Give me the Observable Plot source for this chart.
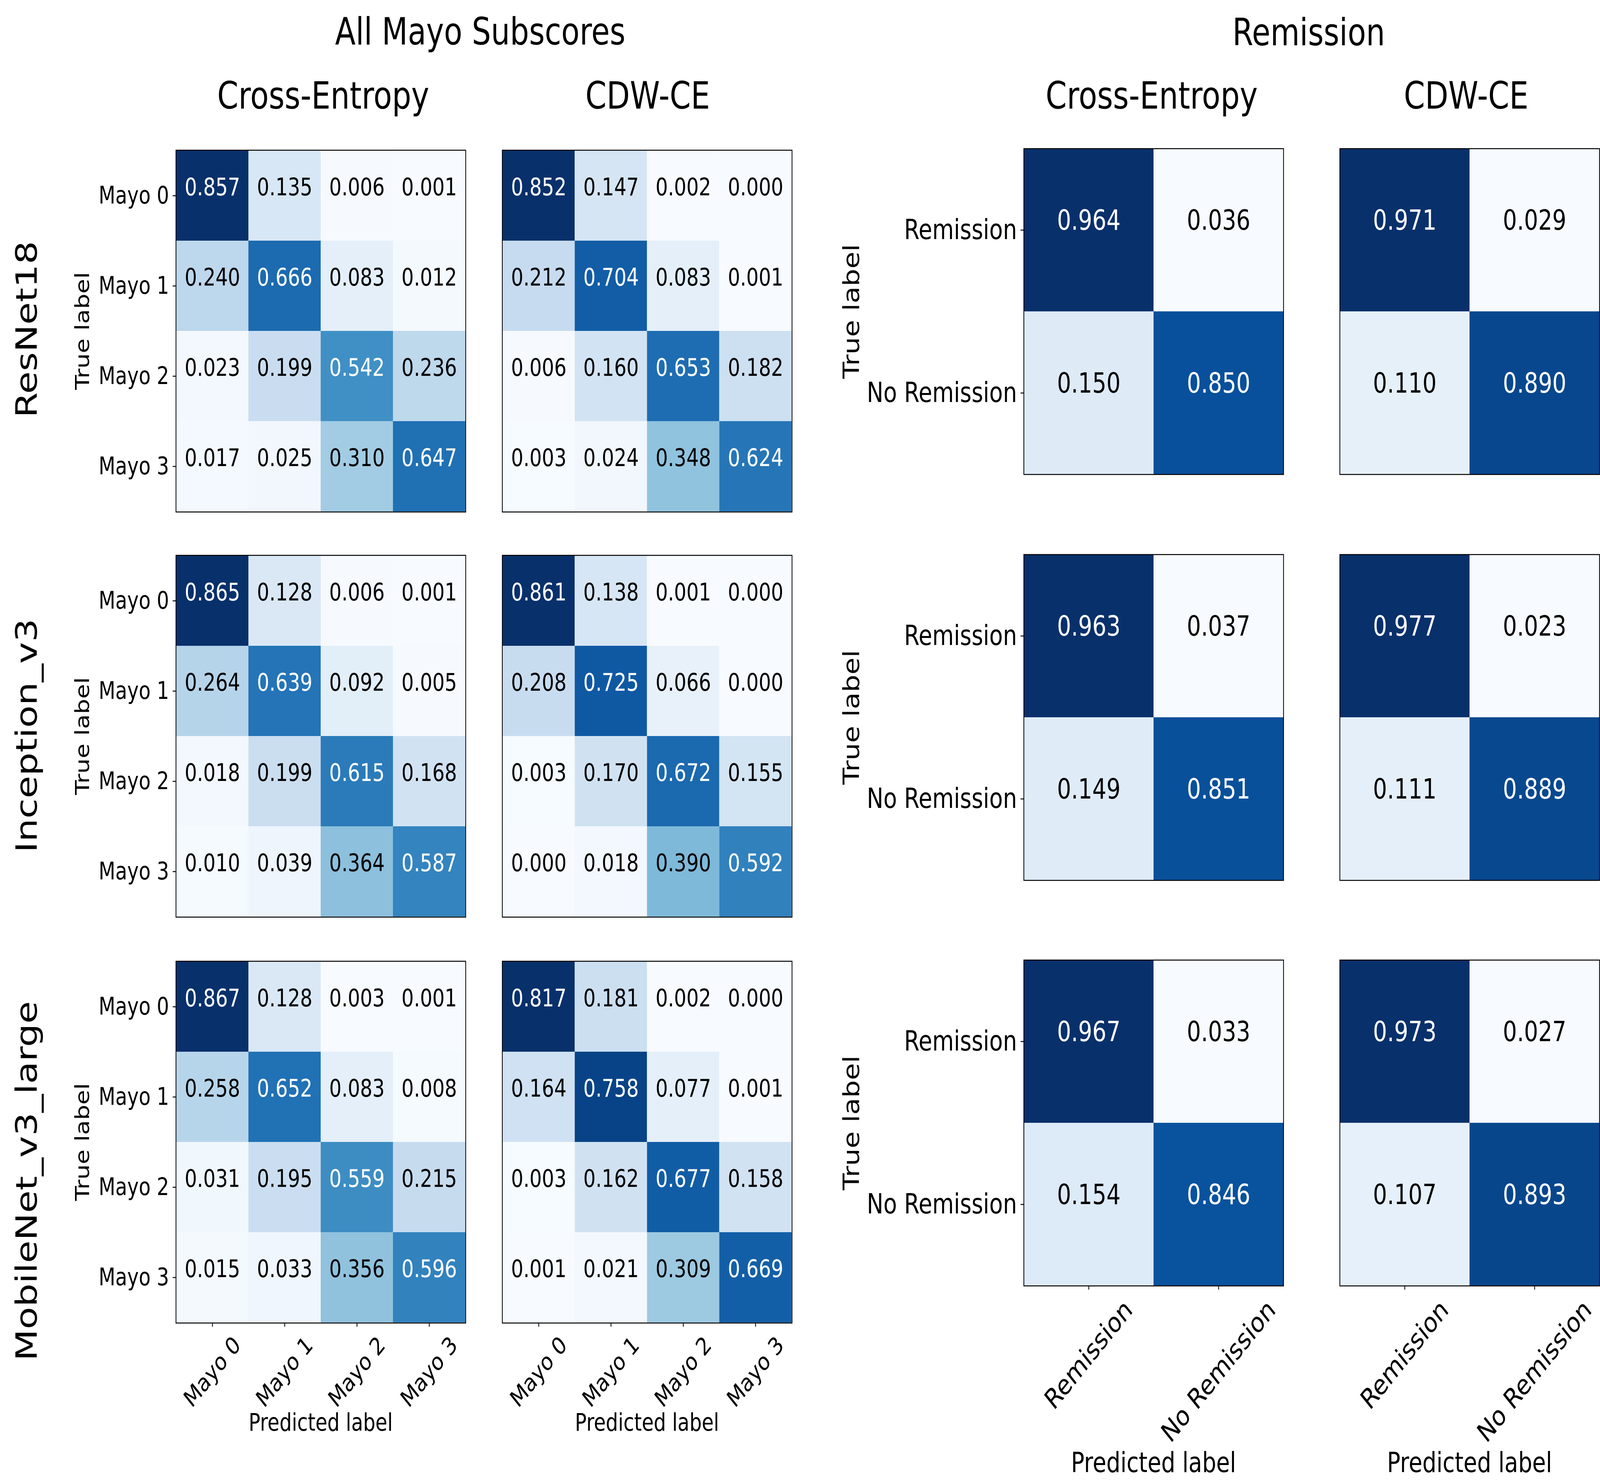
<!DOCTYPE html>
<html><head><meta charset="utf-8">
<script src="https://cdn.jsdelivr.net/npm/d3@7"></script>
<script src="https://cdn.jsdelivr.net/npm/@observablehq/plot@0.6"></script>
<style>
html,body{margin:0;padding:0;background:#fff;overflow:hidden;}
#wrap{position:relative;overflow:hidden;background:#fff;}
#root{position:absolute;left:0;top:0;width:5114px;height:3796px;background:#fff;font-family:"DejaVu Sans";overflow:hidden;transform-origin:0 0;}
.lbl{position:absolute;white-space:nowrap;line-height:1;color:#000;font-family:"DejaVu Sans";}
.pnl{position:absolute;}
</style></head><body><div id="wrap"><div id="root"></div></div>
<script>
// ---------------- data ----------------
const groupTitles = ["All Mayo Subscores", "Remission"];
const lossNames = ["Cross-Entropy", "CDW-CE"];
const modelNames = ["ResNet18", "Inception_v3", "MobileNet_v3_large"];
const mayoClasses = ["Mayo 0", "Mayo 1", "Mayo 2", "Mayo 3"];
const remissionClasses = ["Remission", "No Remission"];
const trueLabelText = "True label";
const predLabelText = "Predicted label";

const mayoResNet18CE  = [[0.857,0.135,0.006,0.001],[0.240,0.666,0.083,0.012],[0.023,0.199,0.542,0.236],[0.017,0.025,0.310,0.647]];
const mayoResNet18CDW = [[0.852,0.147,0.002,0.000],[0.212,0.704,0.083,0.001],[0.006,0.160,0.653,0.182],[0.003,0.024,0.348,0.624]];
const mayoInceptionCE  = [[0.865,0.128,0.006,0.001],[0.264,0.639,0.092,0.005],[0.018,0.199,0.615,0.168],[0.010,0.039,0.364,0.587]];
const mayoInceptionCDW = [[0.861,0.138,0.001,0.000],[0.208,0.725,0.066,0.000],[0.003,0.170,0.672,0.155],[0.000,0.018,0.390,0.592]];
const mayoMobileNetCE  = [[0.867,0.128,0.003,0.001],[0.258,0.652,0.083,0.008],[0.031,0.195,0.559,0.215],[0.015,0.033,0.356,0.596]];
const mayoMobileNetCDW = [[0.817,0.181,0.002,0.000],[0.164,0.758,0.077,0.001],[0.003,0.162,0.677,0.158],[0.001,0.021,0.309,0.669]];

const remResNet18CE  = [[0.964,0.036],[0.150,0.850]];
const remResNet18CDW = [[0.971,0.029],[0.110,0.890]];
const remInceptionCE  = [[0.963,0.037],[0.149,0.851]];
const remInceptionCDW = [[0.977,0.023],[0.111,0.889]];
const remMobileNetCE  = [[0.967,0.033],[0.154,0.846]];
const remMobileNetCDW = [[0.973,0.027],[0.107,0.893]];

const mayoMatrices = [[mayoResNet18CE, mayoResNet18CDW],[mayoInceptionCE, mayoInceptionCDW],[mayoMobileNetCE, mayoMobileNetCDW]];
const remMatrices  = [[remResNet18CE, remResNet18CDW],[remInceptionCE, remInceptionCDW],[remMobileNetCE, remMobileNetCDW]];

// matplotlib "Blues" control colours
const blues = ["#f7fbff","#deebf7","#c6dbef","#9ecae1","#6baed6","#4292c6","#2171b5","#08519c","#08306b"];

// ---------------- layout (designed on a 5114 x 3796 canvas, scaled to the viewport) ----------------
const W = 5114, H = 3796;
const wrap = document.getElementById("wrap");
const root = document.getElementById("root");
function fit() {
  const vw = window.innerWidth || W, vh = window.innerHeight || H;
  const sx = vw / W, sy = vh / H;
  root.style.transform = `scale(${sx}, ${sy})`;
  wrap.style.width = vw + "px";
  wrap.style.height = vh + "px";
}
fit();
window.addEventListener("resize", fit);

const FONT = '"DejaVu Sans"';
const mayoX = [562, 1605], mayoY = [384, 1421, 2460], mayoW = 926, mayoH = 926, mayoFs = 62;
const remX = [3272, 4282], remY = [380, 1419, 2457], remW = 830, remH = 834, remFs = 71;
const LW = 2.5, TICK = 10, PAD = 12;

const ctx = document.createElement("canvas").getContext("2d");
function measure(t, fs) { ctx.font = `${fs}px ${FONT}`; return ctx.measureText(t).width; }

function makePanel(matrix, classes, x0, y0, w, h, fs, showY, showX) {
  const cells = [];
  matrix.forEach((row, i) => row.forEach((v, j) => cells.push({t: classes[i], p: classes[j], v})));
  const vals = cells.map(d => d.v);
  const lo = d3.min(vals), hi = d3.max(vals), thr = (lo + hi) / 2;
  const domain = blues.map((_, k) => lo + (hi - lo) * k / (blues.length - 1));
  const mL = showY ? 340 : 6, mB = showX ? 480 : 6, mT = 4, mR = 2;
  const vdy = -0.33 * fs;
  const marks = [
    Plot.cell(cells, {x: "p", y: "t", fill: "v"}),
    Plot.text(cells.filter(d => d.v > thr), {x: "p", y: "t", text: d => d.v.toFixed(3), fill: "white", fontSize: fs, dy: vdy}),
    Plot.text(cells.filter(d => d.v <= thr), {x: "p", y: "t", text: d => d.v.toFixed(3), fill: "black", fontSize: fs, dy: vdy}),
    Plot.frame({stroke: "black", strokeWidth: LW})
  ];
  if (showY) marks.push(Plot.axisY({tickSize: TICK, tickPadding: PAD, strokeWidth: LW, fontSize: fs, label: null}));
  if (showX) {
    marks.push(Plot.axisX({tickSize: TICK, strokeWidth: LW, tickFormat: () => "", label: null}));
    classes.forEach(c => {
      const tw = measure(c, fs);
      const off = TICK + PAD + 2 + (tw + fs) / (2 * Math.SQRT2);
      marks.push(Plot.text([c], {x: d => d, frameAnchor: "bottom", rotate: -45, dy: off,
        textAnchor: "middle", lineAnchor: "middle", fontSize: fs, fill: "black"}));
    });
  }
  const svg = Plot.plot({
    width: mL + w + mR, height: mT + h + mB,
    marginLeft: mL, marginRight: mR, marginTop: mT, marginBottom: mB,
    x: {domain: classes, padding: 0, axis: null},
    y: {domain: classes, padding: 0, axis: null},
    color: {type: "linear", domain, range: blues, interpolate: "rgb"},
    style: {fontFamily: FONT, fontSize: fs + "px", background: "transparent", overflow: "visible", color: "black"},
    marks
  });
  const holder = document.createElement("div");
  holder.className = "pnl";
  holder.style.left = (x0 - mL) + "px";
  holder.style.top = (y0 - mT) + "px";
  holder.appendChild(svg);
  root.appendChild(holder);
}

function hText(text, cx, baseline, fs) {
  const d = document.createElement("div");
  d.className = "lbl";
  d.textContent = text;
  d.style.fontSize = fs + "px";
  d.style.left = cx + "px";
  d.style.top = (baseline - 0.846 * fs) + "px";
  d.style.transform = "translateX(-50%)";
  root.appendChild(d);
}
function vText(text, bx, cy, fs) {
  const d = document.createElement("div");
  d.className = "lbl";
  d.textContent = text;
  d.style.fontSize = fs + "px";
  d.style.left = bx + "px";
  d.style.top = cy + "px";
  d.style.transformOrigin = "0 0";
  d.style.transform = `rotate(-90deg) translate(-50%, ${-0.846 * fs}px)`;
  root.appendChild(d);
}

// panels
for (let r = 0; r < 3; r++) {
  for (let c = 0; c < 2; c++) {
    makePanel(mayoMatrices[r][c], mayoClasses, mayoX[c], mayoY[r], mayoW, mayoH, mayoFs, c === 0, r === 2);
    makePanel(remMatrices[r][c], remissionClasses, remX[c], remY[r], remW, remH, remFs, c === 0, r === 2);
  }
}

// titles
hText(groupTitles[0], 1535, 114, 96);
hText(groupTitles[1], 4183, 116, 96);
hText(lossNames[0], 1033, 278, 97);
hText(lossNames[1], 2070, 278, 97);
hText(lossNames[0], 3681, 278, 97);
hText(lossNames[1], 4686, 278, 97);

// row labels
const rowCenters = [843, 1883, 3023];
modelNames.forEach((m, r) => vText(m, 118, rowCenters[r], 94));

// axis titles
for (let r = 0; r < 3; r++) {
  vText(trueLabelText, 285, mayoY[r] + mayoH / 2, mayoFs);
  vText(trueLabelText, 2745, remY[r] + remH / 2, remFs);
}
for (let c = 0; c < 2; c++) {
  hText(predLabelText, mayoX[c] + mayoW / 2, 3662, mayoFs);
  hText(predLabelText, remX[c] + remW / 2, 3768, remFs);
}
</script></body></html>
